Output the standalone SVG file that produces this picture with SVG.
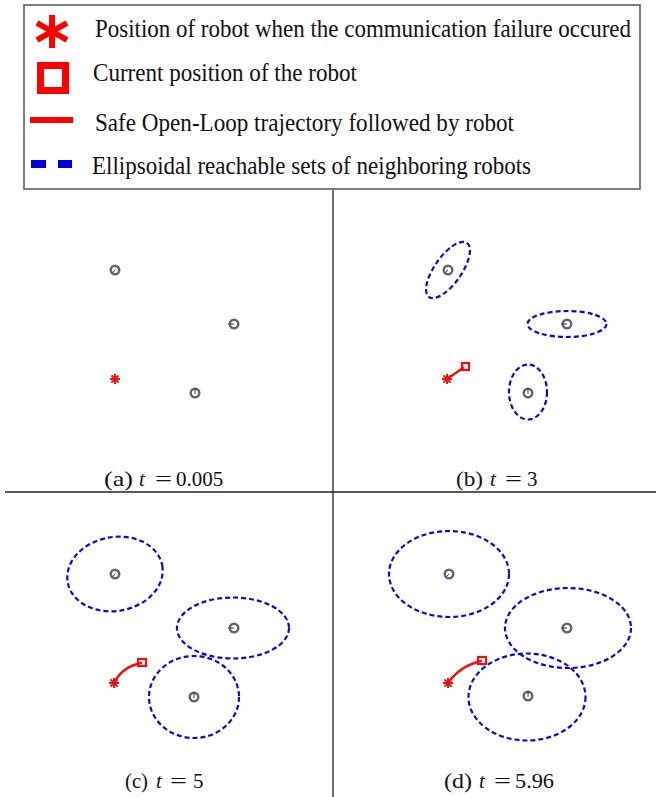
<svg xmlns="http://www.w3.org/2000/svg" width="656" height="797" viewBox="0 0 656 797">
  <style>
    .legend-text { font-family: "Liberation Serif", "Times New Roman", serif; font-size: 23px; fill: #111; }
    .caption { font-family: "Liberation Serif", "Times New Roman", serif; font-size: 21px; fill: #111; }
    .caption .math { font-style: italic; }
    .robot { fill: none; stroke: #666; stroke-width: 2.4; }
    .heading { stroke: #2222ee; stroke-width: 1; }
    .reach { fill: none; stroke: #0a0adc; stroke-width: 2.2; stroke-dasharray: 5 3; }
    .traj { fill: none; stroke: #ee1111; stroke-width: 2.4; stroke-linecap: round; }
    .cur { fill: none; stroke: #ee1111; stroke-width: 2.2; }
    .frame { stroke: #222; stroke-width: 1.3; }
  </style>
  <defs>
    <!-- small asterisk: failure position -->
    <g id="star">
      <g stroke="#ee1111" stroke-width="2">
        <line x1="0" y1="-5" x2="0" y2="5"/>
        <line x1="-5" y1="0" x2="5" y2="0"/>
        <line x1="-3.6" y1="-3.6" x2="3.6" y2="3.6"/>
        <line x1="-3.6" y1="3.6" x2="3.6" y2="-3.6"/>
      </g>
    </g>
    <!-- neighbouring robot markers with heading tick -->
    <g id="ring-sw"><circle r="4.3" class="robot"/><line class="heading" x1="0" y1="0" x2="-3" y2="3"/></g>
    <g id="ring-w"><circle r="4.3" class="robot"/><line class="heading" x1="0" y1="0" x2="-6" y2="0"/></g>
    <g id="ring-n"><circle r="4.3" class="robot"/><line class="heading" x1="0" y1="1" x2="0" y2="-5"/></g>
  </defs>

  <rect width="656" height="797" fill="#fff"/>

  <!-- legend -->
  <g id="legend">
    <rect x="24" y="5" width="616" height="184" fill="#fff" stroke="#555" stroke-width="1.5"/>
    <g stroke="#ff0000" stroke-width="6">
      <line x1="52" y1="15" x2="52" y2="48"/>
      <line x1="37" y1="23" x2="67" y2="40"/>
      <line x1="37" y1="40" x2="67" y2="23"/>
    </g>
    <rect x="40.5" y="65.5" width="25" height="25" fill="none" stroke="#ff0000" stroke-width="7"/>
    <line x1="30" y1="120" x2="73" y2="120" stroke="#ff0000" stroke-width="6"/>
    <line x1="31" y1="164" x2="46" y2="164" stroke="#0000dd" stroke-width="8"/>
    <line x1="58" y1="164" x2="72" y2="164" stroke="#0000dd" stroke-width="8"/>
    <!-- legend labels, slightly tall type -->
    <g transform="translate(0,37) scale(1,1.1)">
      <text class="legend-text" x="95" y="0" textLength="536" lengthAdjust="spacingAndGlyphs">Position of robot when the communication failure occured</text>
    </g>
    <g transform="translate(0,81) scale(1,1.1)">
      <text class="legend-text" x="93" y="0" textLength="264" lengthAdjust="spacingAndGlyphs">Current position of the robot</text>
    </g>
    <g transform="translate(0,131) scale(1,1.1)">
      <text class="legend-text" x="95" y="0" textLength="419" lengthAdjust="spacingAndGlyphs">Safe Open-Loop trajectory followed by robot</text>
    </g>
    <g transform="translate(0,174) scale(1,1.1)">
      <text class="legend-text" x="92" y="0" textLength="439" lengthAdjust="spacingAndGlyphs">Ellipsoidal reachable sets of neighboring robots</text>
    </g>
  </g>

  <!-- panel frame lines -->
  <g id="frame">
    <line class="frame" x1="333" y1="190" x2="333" y2="797"/>
    <line class="frame" x1="5" y1="492" x2="656" y2="492"/>
  </g>

  <!-- (a) -->
  <g id="panel-a">
    <use href="#ring-sw" x="115" y="270"/>
    <use href="#ring-w" x="234" y="324"/>
    <use href="#ring-n" x="195" y="393"/>
    <use href="#star" x="115" y="379"/>
    <text class="caption" y="486"><tspan x="104" textLength="29" lengthAdjust="spacingAndGlyphs">(a)</tspan><tspan class="math" x="139">t</tspan><tspan x="155" textLength="17" lengthAdjust="spacingAndGlyphs">=</tspan><tspan x="176">0.005</tspan></text>
  </g>

  <!-- (b) -->
  <g id="panel-b">
    <ellipse class="reach" cx="448" cy="270" rx="33" ry="13.5" transform="rotate(-55 448 270)"/>
    <ellipse class="reach" cx="567" cy="324" rx="39.5" ry="13"/>
    <ellipse class="reach" cx="528" cy="392" rx="19" ry="27.5"/>
    <use href="#ring-sw" x="448" y="270"/>
    <use href="#ring-w" x="567" y="324"/>
    <use href="#ring-n" x="528" y="393"/>
    <path class="traj" d="M447,379 L463,368"/>
    <use href="#star" x="447" y="379"/>
    <rect class="cur" x="462" y="363" width="7" height="7"/>
    <text class="caption" y="486"><tspan x="456" textLength="27" lengthAdjust="spacingAndGlyphs">(b)</tspan><tspan class="math" x="490">t</tspan><tspan x="505" textLength="17" lengthAdjust="spacingAndGlyphs">=</tspan><tspan x="527">3</tspan></text>
  </g>

  <!-- (c) -->
  <g id="panel-c">
    <ellipse class="reach" cx="115" cy="574" rx="48" ry="37" transform="rotate(-10 115 574)"/>
    <ellipse class="reach" cx="233" cy="628" rx="56" ry="30.5"/>
    <ellipse class="reach" cx="194" cy="697" rx="45" ry="41"/>
    <use href="#ring-sw" x="115" y="574"/>
    <use href="#ring-w" x="234" y="628"/>
    <use href="#ring-n" x="194" y="697"/>
    <path class="traj" d="M114,683 Q122,667 141,663"/>
    <use href="#star" x="114" y="683"/>
    <rect class="cur" x="138" y="659" width="8" height="7"/>
    <text class="caption" y="788"><tspan x="125" textLength="23" lengthAdjust="spacingAndGlyphs">(c)</tspan><tspan class="math" x="156">t</tspan><tspan x="170" textLength="17" lengthAdjust="spacingAndGlyphs">=</tspan><tspan x="193">5</tspan></text>
  </g>

  <!-- (d) -->
  <g id="panel-d">
    <ellipse class="reach" cx="449" cy="574" rx="60" ry="43"/>
    <ellipse class="reach" cx="568" cy="628" rx="63" ry="40"/>
    <ellipse class="reach" cx="527" cy="697" rx="58.5" ry="43.5"/>
    <use href="#ring-sw" x="449" y="574"/>
    <use href="#ring-w" x="567" y="628"/>
    <use href="#ring-n" x="528" y="696"/>
    <path class="traj" d="M448,683 Q460,666 481,661"/>
    <use href="#star" x="448" y="683"/>
    <rect class="cur" x="478" y="657" width="8" height="7"/>
    <text class="caption" y="788"><tspan x="444" textLength="28" lengthAdjust="spacingAndGlyphs">(d)</tspan><tspan class="math" x="479">t</tspan><tspan x="494" textLength="17" lengthAdjust="spacingAndGlyphs">=</tspan><tspan x="515" textLength="39" lengthAdjust="spacingAndGlyphs">5.96</tspan></text>
  </g>
</svg>
